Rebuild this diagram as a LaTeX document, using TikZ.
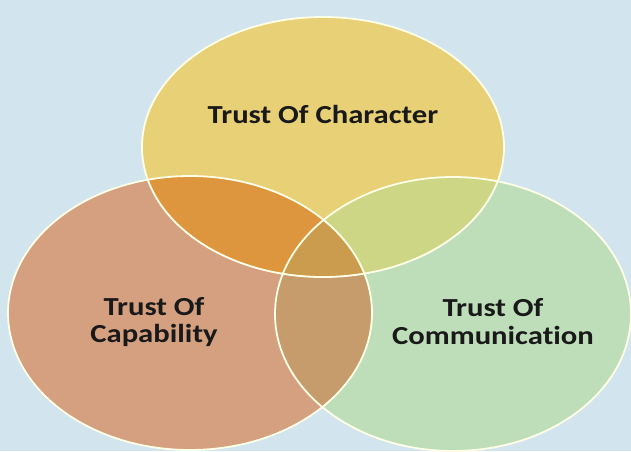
\documentclass[tikz,border=0pt]{standalone}
\usepackage{fontspec}
\setmainfont[Ligatures=NoCommon]{Carlito}
\definecolor{bg}{RGB}{210,228,238}
\definecolor{cY}{RGB}{232,208,118}
\definecolor{cB}{RGB}{212,160,128}
\definecolor{cG}{RGB}{190,222,186}
\definecolor{cYB}{RGB}{222,150,62}
\definecolor{cYG}{RGB}{205,214,132}
\definecolor{cBG}{RGB}{198,156,108}
\definecolor{cYBG}{RGB}{204,156,78}
\tikzset{
  lbl/.style={font=\bfseries\fontsize{26}{28}\selectfont, align=center, text=black!90, xscale=1.18},
  rim/.style={draw=white!90!yellow, line width=1.8pt},
  rimsoft/.style={draw=white, line width=1.2pt, draw opacity=0.45},
}
\def\EY{(323pt,-147pt) ellipse [x radius=181pt, y radius=130pt]}
\def\EB{(190pt,-313pt) ellipse [x radius=182pt, y radius=137pt]}
\def\EG{(453pt,-314pt) ellipse [x radius=178pt, y radius=137pt]}
\begin{document}
\begin{tikzpicture}
\fill[bg] (0,0) rectangle (631pt,-451pt);
\useasboundingbox (0,0) rectangle (631pt,-451pt);
% single fills
\fill[cY] \EY;
\fill[cB] \EB;
\fill[cG] \EG;
% pair overlaps
\begin{scope}\clip \EY; \fill[cYB] \EB; \end{scope}
\begin{scope}\clip \EY; \fill[cYG] \EG; \end{scope}
\begin{scope}\clip \EB; \fill[cBG] \EG; \end{scope}
\begin{scope}\clip \EY; \clip \EB; \fill[cYBG] \EG; \end{scope}
% inner (soft) rims
\begin{scope}\clip \EB; \draw[rimsoft] \EY; \end{scope}
\begin{scope}\clip \EG; \draw[rimsoft] \EY; \end{scope}
\begin{scope}\clip \EG; \draw[rimsoft] \EB; \end{scope}
% outer rims
\draw[rim] \EY;
\draw[rim] \EB;
\draw[rim] \EG;
\node[lbl] (char) at (323pt,-114pt) {Trust Of Character};
\node[lbl] (capa) at (154pt,-322pt) {Trust Of\\Capability};
\node[lbl] (comm) at (493pt,-322pt) {Trust Of\\Communication};
\end{tikzpicture}
\end{document}
